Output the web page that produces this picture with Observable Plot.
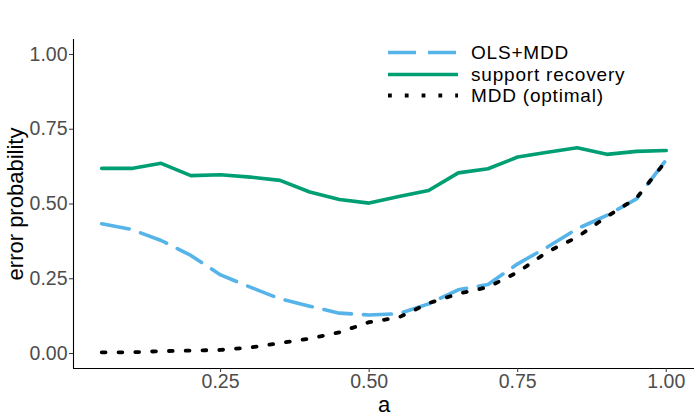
<!DOCTYPE html>
<html>
<head>
<meta charset="utf-8">
<script src="https://cdn.jsdelivr.net/npm/d3@7"></script>
<script src="https://cdn.jsdelivr.net/npm/@observablehq/plot@0.6"></script>
<style>
  body { margin: 0; background: #fff; font-family: "Liberation Sans", Arial, sans-serif; }
  #wrap { position: relative; width: 700px; height: 420px; }
  g[aria-label="y-axis tick label"], g[aria-label="x-axis tick label"] { fill: #4d4d4d; }
  g[aria-label="y-axis label"], g[aria-label="x-axis label"] { fill: #000; font-size: 22px; }
  #legend { position: absolute; left: 388px; top: 42px; font-size: 19px; color: #000; }
  #legend .row { display: flex; align-items: center; height: 21.5px; }
  #legend .row span { display: inline-block; line-height: 21.5px; white-space: nowrap; letter-spacing: 0.8px; }
  #legend svg { width: 70px; height: 19px; margin-right: 13px; flex: none; }
</style>
</head>
<body>
<div id="wrap"></div>
<script>
const aVals   = [0.05,0.10,0.15,0.20,0.25,0.30,0.35,0.40,0.45,0.50,0.55,0.60,0.65,0.70,0.75,0.80,0.85,0.90,0.95,1.00];
const olsMdd  = [0.434,0.415,0.378,0.328,0.263,0.222,0.183,0.158,0.135,0.129,0.133,0.166,0.213,0.231,0.300,0.356,0.417,0.462,0.517,0.648];
const support = [0.619,0.619,0.636,0.595,0.598,0.590,0.579,0.540,0.515,0.503,0.525,0.545,0.604,0.618,0.657,0.673,0.688,0.666,0.676,0.679];
const mddOpt  = [0.004,0.004,0.008,0.010,0.012,0.020,0.035,0.050,0.071,0.105,0.121,0.168,0.200,0.222,0.272,0.340,0.389,0.458,0.520,0.645];
const seriesNames = ["OLS+MDD", "support recovery", "MDD (optimal)"];
const seriesColors = ["#56B4E9", "#009E73", "#000000"];
const seriesDash = ["28,12", null, "3.8,13"];
const yTicks = [0, 0.25, 0.5, 0.75, 1];
const xTicks = [0.25, 0.5, 0.75, 1];

const rows = (vals) => aVals.map((a, i) => ({a, v: vals[i]}));
const xDom = [0.05 - 0.0475, 1 + 0.0475];
const yDom = [-0.05, 1.05];

const plot = Plot.plot({
  width: 700, height: 420,
  marginLeft: 73, marginRight: 6, marginTop: 39, marginBottom: 52,
  style: { fontFamily: "'Liberation Sans', Arial, sans-serif", background: "#fff" },
  x: { domain: xDom },
  y: { domain: yDom },
  marks: [
    Plot.ruleX([xDom[0]], { stroke: "#000", strokeWidth: 1.1 }),
    Plot.ruleY([yDom[0]], { stroke: "#000", strokeWidth: 1.1 }),
    Plot.axisY({ ticks: yTicks, tickFormat: d3.format(".2f"), tickSize: 4, tickPadding: 2, fontSize: 19.5, stroke: "#333",
                 label: "error probability", labelAnchor: "center", labelOffset: 66, labelArrow: "none" }),
    Plot.axisX({ ticks: xTicks, tickFormat: d3.format(".2f"), tickSize: 4, tickPadding: 2, fontSize: 19.5, stroke: "#333",
                 label: "a", labelAnchor: "center", labelOffset: 43, labelArrow: "none" }),
    Plot.line(rows(support), { x: "a", y: "v", stroke: seriesColors[1], strokeWidth: 3.6 }),
    Plot.line(rows(olsMdd), { x: "a", y: "v", stroke: seriesColors[0], strokeWidth: 3.6, strokeDasharray: seriesDash[0] }),
    Plot.line(rows(mddOpt), { x: "a", y: "v", stroke: seriesColors[2], strokeWidth: 3.8, strokeDasharray: seriesDash[2] })
  ]
});
const wrap = document.getElementById("wrap");
wrap.appendChild(plot);

const leg = document.createElement("div");
leg.id = "legend";
seriesNames.forEach((name, i) => {
  const row = document.createElement("div");
  row.className = "row";
  const dash = seriesDash[i] ? `stroke-dasharray="${seriesDash[i]}"` : "";
  const sw = i === 2 ? 3.8 : 3.6;
  row.innerHTML = `<svg viewBox="0 0 70 19"><line x1="0" x2="70" y1="9.5" y2="9.5" stroke="${seriesColors[i]}" stroke-width="${sw}" ${dash}/></svg><span>${name}</span>`;
  leg.appendChild(row);
});
wrap.appendChild(leg);
</script>
</body>
</html>
